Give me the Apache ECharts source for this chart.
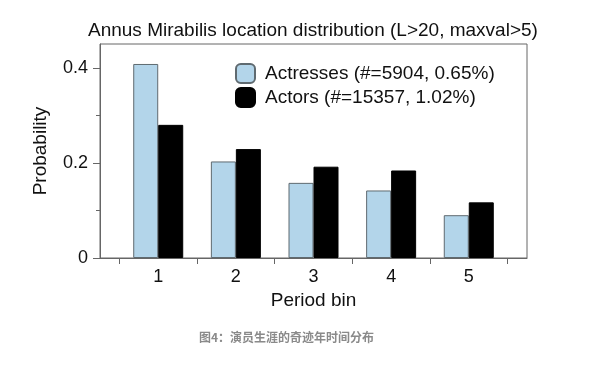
<!DOCTYPE html>
<html>
<head>
<meta charset="utf-8">
<script src="https://cdn.jsdelivr.net/npm/echarts@6/dist/echarts.min.js"></script>
<style>
html,body{margin:0;padding:0;background:#fff;}
#c{width:600px;height:367px;}
</style>
</head>
<body>
<div id="c"></div>
<script>
var categories = [1, 2, 3, 4, 5];
var tickBounds = [0.5, 1.5, 2.5, 3.5, 4.5, 5.5];
var actresses = [0.408, 0.203, 0.158, 0.142, 0.090];
var actors = [0.280, 0.229, 0.192, 0.184, 0.117];
var yLabels = [0, 0.2, 0.4];
var seriesNames = ['Actresses (#=5904, 0.65%)', 'Actors (#=15357, 1.02%)'];
var titleText = 'Annus Mirabilis location distribution (L>20, maxval>5)';
var captionText = '图4：演员生涯的奇迹年时间分布';

function pairs(xs, ys) { return xs.map(function (x, i) { return [x, ys[i]]; }); }

var FONT = '"Liberation Sans", Arial, sans-serif';
var chart = echarts.init(document.getElementById('c'), null, {renderer: 'canvas'});
chart.setOption({
  animation: false,
  backgroundColor: '#fff',
  title: [
    {text: titleText, left: 88, top: 21, padding: 0,
     textStyle: {fontFamily: FONT, fontSize: 19, fontWeight: 'normal', color: '#111'}},
    {text: captionText, left: 199, top: 331, padding: 0,
     textStyle: {fontFamily: '"Noto Sans CJK SC", sans-serif', fontSize: 12, fontWeight: 'bold', color: '#8a8a8a'}}
  ],
  legend: {
    orient: 'vertical', left: 235, top: 63, padding: 0, itemWidth: 19, itemHeight: 19, itemGap: 3,
    icon: 'roundRect',
    textStyle: {fontFamily: FONT, fontSize: 19, color: '#111', padding: [0, 0, 0, 5]},
    data: seriesNames
  },
  grid: {left: 100, right: 73, top: 44, bottom: 109, show: true, borderColor: '#666', borderWidth: 1, containLabel: false},
  xAxis: {
    type: 'value', min: 0.25, max: 5.75,
    name: 'Period bin', nameLocation: 'middle', nameGap: 33,
    nameTextStyle: {fontFamily: FONT, fontSize: 19, color: '#111'},
    axisLine: {show: true, lineStyle: {color: '#666'}},
    axisTick: {show: true, inside: false, length: 6, lineStyle: {color: '#666'}, customValues: tickBounds},
    axisLabel: {customValues: categories, margin: 10, fontFamily: FONT, fontSize: 18, color: '#111'},
    splitLine: {show: false}
  },
  yAxis: {
    type: 'value', min: 0, max: 0.45, interval: 0.2,
    name: 'Probability', nameLocation: 'middle', nameGap: 50, nameRotate: 90,
    nameTextStyle: {fontFamily: FONT, fontSize: 19, color: '#111'},
    axisLine: {show: true, lineStyle: {color: '#666'}},
    axisTick: {show: true, length: 7, lineStyle: {color: '#666'}, customValues: yLabels},
    minorTick: {show: true, splitNumber: 2, length: 4, lineStyle: {color: '#666'}},
    axisLabel: {customValues: yLabels, margin: 12, fontFamily: FONT, fontSize: 18, color: '#111'},
    splitLine: {show: false}
  },
  series: [
    {name: seriesNames[0], type: 'bar', data: pairs(categories, actresses), barWidth: 25, barGap: '0%',
     itemStyle: {color: '#b3d5ea', borderColor: '#5f6a70', borderWidth: 1}},
    {name: seriesNames[1], type: 'bar', data: pairs(categories, actors), barWidth: 25, barGap: '0%',
     itemStyle: {color: '#000', borderColor: '#000', borderWidth: 1}}
  ]
});
</script>
</body>
</html>
